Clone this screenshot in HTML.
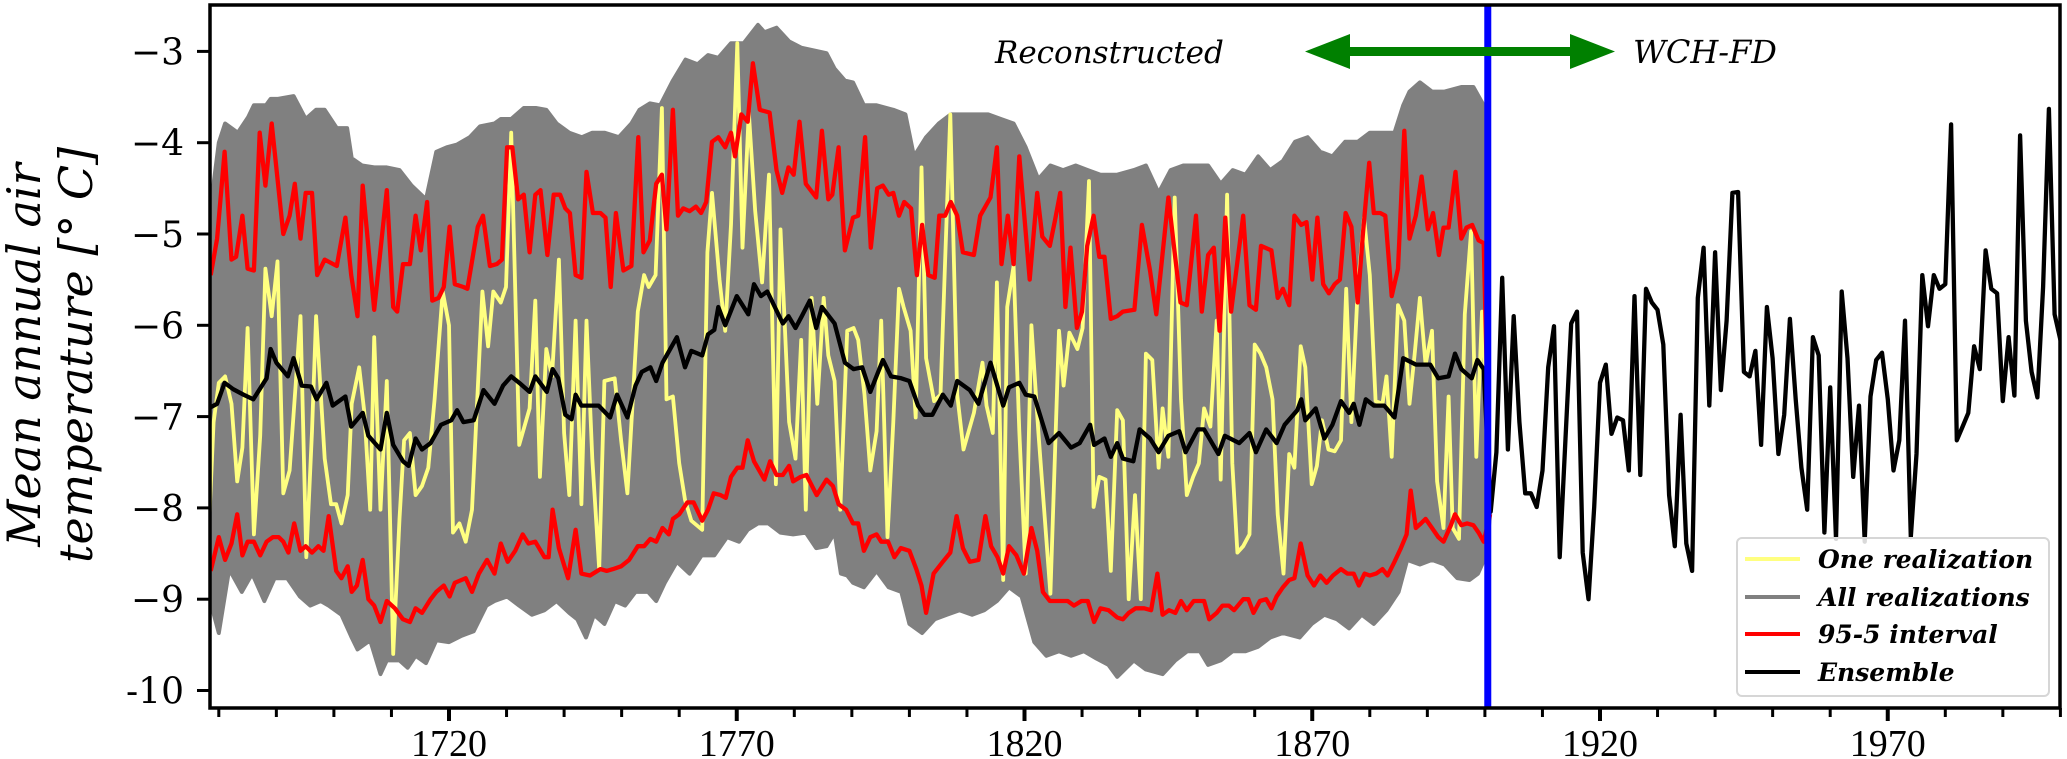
<!DOCTYPE html>
<html><head><meta charset="utf-8"><style>
html,body{margin:0;padding:0;background:#fff;}
svg{display:block;}
</style></head><body>
<svg id="chart" width="2067" height="759" viewBox="0 0 2067 759" xmlns="http://www.w3.org/2000/svg">
<defs><clipPath id="plotclip"><rect x="210" y="5" width="1850" height="703"/></clipPath></defs>
<g id="plot" clip-path="url(#plotclip)"></g>
<g id="axes"></g>
<text transform="translate(0,355) rotate(-90)" font-family="'DejaVu Serif', serif" font-style="italic" font-size="46" text-anchor="middle">
<tspan x="0" y="40">Mean annual air</tspan><tspan x="0" y="92">temperature [° C]</tspan></text>
<text x="995" y="63" font-family="'DejaVu Serif', serif" font-style="italic" font-size="31">Reconstructed</text>
<text x="1633" y="63" font-family="'DejaVu Serif', serif" font-style="italic" font-size="32">WCH-FD</text>
<g fill="#008000">
<rect x="1345" y="47" width="230" height="9"/>
<polygon points="1305,51.5 1350,34 1350,69"/>
<polygon points="1615,51.5 1570,34 1570,69"/>
</g>
<g>
<rect x="1737" y="538" width="312" height="158" rx="5" fill="#fff" fill-opacity="0.85" stroke="#d6d6d6" stroke-width="2"/>
<line x1="1745" y1="559" x2="1800" y2="559" stroke="#ffff80" stroke-width="4"/>
<text x="1818" y="568" font-family="'DejaVu Serif', serif" font-style="italic" font-weight="bold" font-size="25">One realization</text>
<line x1="1745" y1="597" x2="1800" y2="597" stroke="#808080" stroke-width="4"/>
<text x="1818" y="606" font-family="'DejaVu Serif', serif" font-style="italic" font-weight="bold" font-size="25">All realizations</text>
<line x1="1745" y1="634" x2="1800" y2="634" stroke="#ff0000" stroke-width="4"/>
<text x="1818" y="643" font-family="'DejaVu Serif', serif" font-style="italic" font-weight="bold" font-size="25">95-5 interval</text>
<line x1="1745" y1="672" x2="1800" y2="672" stroke="#000" stroke-width="4"/>
<text x="1818" y="681" font-family="'DejaVu Serif', serif" font-style="italic" font-weight="bold" font-size="25">Ensemble</text>
</g>
</svg>
<script>
const xTickYears=[1720,1770,1820,1870,1920,1970];
const yTickVals=[-3,-4,-5,-6,-7,-8,-9,-10];
const yTickLabels=["\u22123","\u22124","\u22125","\u22126","\u22127","\u22128","\u22129","-10"];
const splitYear=1900.5;
const ensRecon=[[1678.2,-6.91],[1679.7,-6.86],[1681,-6.63],[1682.5,-6.70],[1684.3,-6.76],[1686,-6.81],[1688.3,-6.58],[1689,-6.26],[1690,-6.41],[1692,-6.56],[1693,-6.36],[1694.4,-6.66],[1696,-6.67],[1697,-6.81],[1698.7,-6.63],[1699.8,-6.88],[1702,-6.78],[1703,-7.11],[1705,-6.96],[1706,-7.21],[1708.1,-7.36],[1709.2,-6.96],[1710.3,-7.31],[1712,-7.49],[1713,-7.54],[1714.2,-7.24],[1715.3,-7.36],[1716.8,-7.29],[1718.6,-7.09],[1720.4,-7.04],[1721.4,-6.93],[1722.5,-7.06],[1724.3,-7.04],[1726,-6.71],[1727.9,-6.86],[1729.4,-6.66],[1730.8,-6.56],[1732.2,-6.63],[1734,-6.73],[1735,-6.56],[1737,-6.73],[1738,-6.48],[1739,-6.58],[1740.2,-6.98],[1741.3,-7.03],[1742,-6.76],[1743,-6.88],[1746,-6.88],[1748,-7.01],[1749.2,-6.76],[1751,-7.01],[1752.4,-6.66],[1753.5,-6.51],[1755,-6.46],[1756,-6.61],[1757.1,-6.41],[1759.6,-6.13],[1761,-6.46],[1762.1,-6.28],[1764,-6.33],[1765,-6.1],[1766.1,-6.05],[1766.8,-5.80],[1768,-6.0],[1770,-5.68],[1772,-5.88],[1773,-5.55],[1774.2,-5.68],[1775.3,-5.63],[1778,-5.98],[1779,-5.90],[1780.2,-6.03],[1781.3,-5.90],[1782.7,-5.73],[1783.8,-6.03],[1784.8,-5.80],[1787,-5.98],[1788.8,-6.41],[1790.3,-6.48],[1791.8,-6.46],[1793.2,-6.73],[1795.4,-6.38],[1796.8,-6.56],[1798.6,-6.58],[1800,-6.61],[1801.5,-6.88],[1802.6,-6.98],[1804,-6.98],[1805.8,-6.76],[1807.2,-6.88],[1808.3,-6.61],[1810.5,-6.71],[1812,-6.86],[1814.1,-6.41],[1816.3,-6.88],[1817.3,-6.68],[1819.1,-6.63],[1820.2,-6.76],[1821.7,-6.78],[1824.2,-7.29],[1826,-7.18],[1828.1,-7.34],[1829.6,-7.29],[1831.4,-7.09],[1832.1,-7.31],[1833.9,-7.24],[1835,-7.44],[1836.1,-7.29],[1837.1,-7.46],[1838.9,-7.49],[1840,-7.14],[1841.8,-7.24],[1843.3,-7.39],[1845,-7.21],[1846.9,-7.16],[1848,-7.39],[1850.1,-7.14],[1851.2,-7.14],[1853.7,-7.41],[1854.8,-7.21],[1857.3,-7.29],[1859.1,-7.18],[1860.2,-7.39],[1862,-7.14],[1863.8,-7.29],[1865.2,-7.09],[1867.4,-6.93],[1868.1,-6.81],[1868.8,-7.04],[1870.6,-6.91],[1872.1,-7.24],[1873.5,-7.09],[1875,-6.83],[1876.4,-6.96],[1877.2,-6.86],[1878.2,-7.09],[1879.3,-6.81],[1880.7,-6.88],[1882.5,-6.88],[1884.3,-7.01],[1885.8,-6.36],[1888,-6.43],[1890.5,-6.43],[1891.9,-6.58],[1893.7,-6.56],[1894.8,-6.31],[1895.9,-6.48],[1897.7,-6.58],[1898.7,-6.38],[1899.8,-6.48]];
const obsStartYear=1901;
const obsVals=[-8.04,-7.39,-5.48,-7.36,-5.90,-7.06,-7.84,-7.84,-7.99,-7.59,-6.46,-6.01,-8.54,-7.24,-5.98,-5.85,-8.49,-9.0,-7.99,-6.63,-6.43,-7.19,-7.01,-7.04,-7.59,-5.68,-7.64,-5.60,-5.75,-5.83,-6.21,-7.86,-8.42,-6.98,-8.39,-8.69,-5.70,-5.15,-6.88,-5.20,-6.71,-5.95,-4.55,-4.54,-6.51,-6.56,-6.28,-7.31,-5.80,-6.36,-7.41,-6.98,-5.93,-6.81,-7.56,-8.02,-6.13,-6.33,-8.27,-6.68,-8.34,-5.63,-6.36,-7.66,-6.88,-8.37,-6.78,-6.38,-6.30,-6.81,-7.59,-7.26,-5.95,-8.32,-7.41,-5.45,-6.01,-5.45,-5.60,-5.55,-3.80,-7.26,-7.11,-6.96,-6.23,-6.48,-5.18,-5.60,-5.65,-6.83,-6.13,-6.77,-3.92,-5.95,-6.51,-6.79,-5.58,-3.63,-5.88,-6.16,-5.0];
const redUpper=[[1678.6,-5.45],[1679.7,-5.05],[1681,-4.10],[1682.2,-5.28],[1683,-5.25],[1684.1,-4.80],[1685,-5.38],[1686.1,-5.40],[1687.1,-3.89],[1688.1,-4.47],[1689.2,-3.79],[1691.2,-5.0],[1692.3,-4.80],[1693.2,-4.45],[1694.2,-5.05],[1695.1,-4.55],[1696.2,-4.55],[1697.1,-5.45],[1698.4,-5.28],[1700.5,-5.35],[1702,-4.82],[1703,-5.45],[1704.1,-5.90],[1705,-4.47],[1707,-5.83],[1709.2,-4.52],[1710.3,-5.80],[1711,-5.85],[1712,-5.33],[1713.2,-5.33],[1714.2,-4.80],[1715.1,-5.18],[1716.2,-4.65],[1717.1,-5.73],[1718.2,-5.70],[1719.1,-5.58],[1720.1,-4.92],[1721,-5.55],[1722.5,-5.58],[1723.2,-5.60],[1725,-4.92],[1725.9,-4.80],[1727.1,-5.35],[1728.3,-5.33],[1729.2,-5.28],[1730.1,-4.05],[1731,-4.05],[1732,-4.62],[1733,-4.57],[1734,-5.20],[1735,-4.57],[1735.9,-4.52],[1737.1,-5.23],[1738.2,-4.57],[1739.3,-4.57],[1740.2,-4.72],[1741,-4.77],[1742,-5.45],[1743,-5.48],[1743.9,-4.32],[1745,-4.77],[1746.3,-4.77],[1747.2,-4.82],[1748.1,-5.58],[1749,-4.77],[1750.3,-5.40],[1751.7,-5.35],[1752.9,-3.94],[1753.8,-5.20],[1754.9,-5.07],[1756,-4.45],[1757,-4.35],[1757.8,-4.95],[1758.9,-3.64],[1759.8,-4.80],[1760.7,-4.72],[1761.8,-4.75],[1762.9,-4.70],[1763.8,-4.77],[1764.7,-4.65],[1765.7,-3.99],[1766.8,-3.94],[1768,-4.05],[1769,-3.89],[1769.7,-4.15],[1770.8,-3.69],[1771.9,-3.77],[1772.8,-3.13],[1774,-3.64],[1775.7,-3.67],[1776.9,-4.30],[1777.9,-4.55],[1779,-4.27],[1779.9,-4.35],[1780.9,-3.77],[1782,-4.45],[1783.8,-4.60],[1784.8,-3.87],[1785.9,-4.62],[1786.6,-4.57],[1787.7,-4.05],[1788.8,-5.18],[1790.2,-4.82],[1791.1,-4.80],[1792.3,-3.94],[1793.3,-5.15],[1794.4,-4.50],[1795.4,-4.47],[1796.4,-4.57],[1797.2,-4.55],[1798.2,-4.80],[1799.1,-4.65],[1800.3,-4.72],[1801.3,-5.45],[1802.2,-4.90],[1803.3,-5.45],[1804.4,-5.48],[1805.2,-4.80],[1806.2,-4.80],[1807.2,-4.65],[1808.3,-4.80],[1809.3,-5.20],[1811.2,-5.23],[1812.3,-4.80],[1814.1,-4.60],[1815.2,-4.05],[1816,-5.33],[1817.1,-4.80],[1818.1,-5.33],[1819.1,-4.15],[1820.9,-5.50],[1822.2,-4.55],[1823.1,-5.03],[1824.4,-5.13],[1825.3,-4.85],[1826.2,-4.55],[1827.1,-5.80],[1828,-5.15],[1829.1,-6.03],[1830,-5.85],[1830.9,-5.13],[1832,-4.80],[1833,-5.25],[1833.9,-5.25],[1835,-5.93],[1836.1,-5.90],[1837.1,-5.85],[1839.1,-5.83],[1840.4,-4.90],[1841.8,-5.40],[1842.9,-5.88],[1845,-4.60],[1846,-5.15],[1847.1,-5.75],[1848.2,-5.78],[1849.8,-4.80],[1850.8,-5.85],[1851.9,-5.23],[1852.9,-5.15],[1853.9,-6.06],[1854.9,-4.82],[1855.9,-5.85],[1858,-4.80],[1859.1,-5.78],[1860.2,-5.83],[1861.1,-5.13],[1862.9,-5.18],[1864,-5.70],[1864.9,-5.60],[1866,-5.78],[1866.9,-4.80],[1868.1,-4.90],[1869,-4.87],[1870,-5.50],[1870.9,-4.82],[1871.9,-5.55],[1872.9,-5.65],[1873.9,-5.55],[1874.8,-5.50],[1875.8,-4.77],[1876.8,-4.92],[1877.9,-5.75],[1878.8,-5.0],[1879.9,-4.22],[1880.7,-4.77],[1881.8,-4.77],[1882.7,-4.80],[1883.8,-5.68],[1884.9,-5.38],[1886,-3.87],[1886.9,-5.05],[1888,-4.80],[1889,-4.37],[1890.1,-4.95],[1891,-4.77],[1892,-5.23],[1892.8,-4.93],[1893.7,-4.93],[1894.9,-4.32],[1895.9,-5.05],[1896.8,-4.93],[1897.8,-4.90],[1898.9,-5.07],[1899.8,-5.10],[1900.9,-8.04]];
const redLower=[[1678.6,-8.69],[1680,-8.32],[1681.1,-8.57],[1682.2,-8.39],[1683.2,-8.07],[1684.1,-8.52],[1685,-8.37],[1686.1,-8.37],[1687.2,-8.52],[1688.3,-8.37],[1689.4,-8.32],[1690.4,-8.32],[1691.2,-8.37],[1692.1,-8.49],[1693.1,-8.17],[1694.2,-8.47],[1695.1,-8.42],[1696.2,-8.49],[1697.3,-8.42],[1698.2,-8.47],[1699.1,-8.09],[1700.4,-8.69],[1701.3,-8.77],[1702.4,-8.64],[1703.1,-8.92],[1704,-8.85],[1705,-8.57],[1706,-9.0],[1707,-9.07],[1708.1,-9.25],[1709.2,-9.02],[1710.6,-9.10],[1712,-9.22],[1713.2,-9.25],[1714.2,-9.10],[1715.3,-9.15],[1716.8,-9.0],[1717.8,-8.92],[1719.1,-8.85],[1720.1,-8.97],[1721,-8.82],[1722.9,-8.77],[1724,-8.92],[1725.2,-8.72],[1726.6,-8.57],[1727.9,-8.72],[1729,-8.39],[1730.2,-8.59],[1731.5,-8.47],[1732.8,-8.29],[1733.8,-8.39],[1735,-8.37],[1736.6,-8.54],[1737.3,-8.54],[1738,-8.02],[1739.1,-8.44],[1740.7,-8.77],[1742,-8.24],[1743,-8.72],[1744.5,-8.74],[1746.3,-8.67],[1747.4,-8.69],[1748.5,-8.67],[1749.9,-8.64],[1751.3,-8.57],[1752.8,-8.42],[1753.9,-8.42],[1755,-8.34],[1756,-8.37],[1757.1,-8.22],[1758.2,-8.29],[1758.9,-8.12],[1760,-8.07],[1761.4,-7.94],[1762.5,-7.94],[1764,-8.14],[1765,-8.02],[1766,-7.84],[1767.2,-7.86],[1768.1,-7.89],[1769,-7.66],[1770.1,-7.56],[1771,-7.56],[1771.9,-7.26],[1773,-7.49],[1774.8,-7.69],[1775.8,-7.49],[1776.9,-7.64],[1778,-7.64],[1779.1,-7.54],[1779.8,-7.71],[1781.1,-7.66],[1782.1,-7.64],[1783.9,-7.86],[1785.6,-7.69],[1786.7,-7.76],[1787.7,-7.96],[1789,-8.02],[1790.2,-8.17],[1791.1,-8.17],[1792.1,-8.47],[1793.2,-8.32],[1794.3,-8.29],[1795.1,-8.37],[1796.3,-8.37],[1797.4,-8.54],[1798.5,-8.44],[1800,-8.47],[1801.2,-8.67],[1802.1,-8.85],[1802.9,-9.15],[1804.2,-8.72],[1805.8,-8.59],[1807.1,-8.49],[1808.2,-8.09],[1809.3,-8.44],[1810.5,-8.59],[1812,-8.57],[1813.2,-8.09],[1814.2,-8.42],[1815.3,-8.54],[1816.3,-8.72],[1817.3,-8.42],[1818.6,-8.52],[1819.9,-8.72],[1821.2,-8.22],[1822.2,-8.47],[1823.2,-8.92],[1824.4,-9.02],[1826,-9.02],[1827.5,-9.02],[1828.6,-9.07],[1829.9,-9.02],[1831,-9.02],[1832.1,-9.25],[1833.2,-9.10],[1834.6,-9.12],[1836.1,-9.20],[1837.1,-9.22],[1838.1,-9.15],[1839.3,-9.10],[1840.8,-9.10],[1842,-9.12],[1843.1,-8.72],[1844,-9.17],[1845.1,-9.12],[1846.2,-9.15],[1847.2,-9.02],[1848.2,-9.12],[1849.4,-9.02],[1851.2,-9.02],[1852.1,-9.22],[1853.4,-9.15],[1854.4,-9.07],[1855.5,-9.07],[1856.4,-9.12],[1858,-9.0],[1858.9,-9.0],[1859.8,-9.15],[1860.9,-9.02],[1862,-9.0],[1862.9,-9.10],[1863.8,-8.97],[1864.9,-8.87],[1866,-8.79],[1866.9,-8.77],[1868,-8.39],[1869.2,-8.74],[1870.3,-8.85],[1871.4,-8.74],[1872.5,-8.82],[1873.6,-8.74],[1875,-8.67],[1876.1,-8.72],[1877.2,-8.72],[1878.1,-8.85],[1879.1,-8.72],[1880,-8.74],[1881.1,-8.72],[1882.2,-8.67],[1883.1,-8.74],[1884.3,-8.59],[1885.4,-8.44],[1886.4,-8.29],[1887.1,-7.81],[1888,-8.22],[1888.9,-8.17],[1889.7,-8.12],[1890.8,-8.22],[1891.9,-8.32],[1892.8,-8.37],[1894.1,-8.19],[1894.8,-8.07],[1895.9,-8.19],[1896.9,-8.17],[1898,-8.19],[1898.9,-8.27],[1899.8,-8.37],[1900.9,-8.07]];
const oneReal=[[1678.3,-8.2],[1679.1,-7.06],[1680,-6.63],[1681.1,-6.56],[1682.2,-6.86],[1683.2,-7.71],[1684.1,-7.34],[1685,-6.03],[1686.1,-8.29],[1687.2,-7.21],[1688.1,-5.38],[1689.2,-5.90],[1690.2,-5.30],[1691.2,-7.84],[1692.3,-7.59],[1694.2,-5.90],[1695.2,-8.54],[1696.2,-7.16],[1696.9,-5.90],[1698.4,-7.46],[1699.5,-7.96],[1700.4,-7.96],[1701.3,-8.17],[1702.4,-7.86],[1703.1,-6.86],[1704.4,-6.46],[1705.3,-6.96],[1706.3,-8.02],[1707,-6.13],[1708.1,-8.02],[1709.2,-6.61],[1710.3,-9.60],[1711.4,-8.12],[1712.2,-7.26],[1713.2,-7.18],[1714.2,-7.86],[1715.3,-7.76],[1716.4,-7.56],[1717.5,-6.81],[1718.9,-5.63],[1720,-6.0],[1720.7,-8.27],[1721.8,-8.17],[1722.9,-8.37],[1724,-8.02],[1725.8,-5.63],[1726.8,-6.23],[1727.7,-5.63],[1729,-5.75],[1729.9,-5.58],[1730.8,-3.89],[1732.2,-7.31],[1734,-6.91],[1735,-5.73],[1735.8,-7.66],[1736.9,-6.26],[1737.9,-6.56],[1739.1,-5.28],[1740,-7.18],[1740.9,-7.86],[1742,-5.95],[1743,-7.96],[1743.9,-5.95],[1744.9,-7.46],[1746.1,-8.67],[1747,-6.61],[1748.8,-6.58],[1749.9,-7.26],[1751,-7.84],[1752.8,-5.85],[1753.9,-5.45],[1754.7,-5.58],[1755.9,-5.45],[1757,-3.62],[1757.8,-6.81],[1758.9,-6.78],[1760,-7.51],[1761,-7.91],[1762.1,-8.14],[1764,-8.24],[1764.9,-5.20],[1765.7,-4.55],[1767,-5.50],[1768,-6.06],[1769,-4.90],[1770.1,-2.91],[1771,-5.15],[1772.1,-3.67],[1773.2,-4.75],[1774.4,-5.53],[1775.6,-4.35],[1776.8,-7.74],[1777.6,-4.95],[1779.1,-7.06],[1780.2,-7.46],[1781.2,-6.16],[1782,-8.02],[1783,-5.70],[1784,-6.86],[1785.1,-5.70],[1785.9,-6.33],[1787,-6.61],[1788,-8.02],[1789.2,-6.06],[1790.3,-6.03],[1791.1,-6.16],[1792.2,-6.76],[1793.2,-7.59],[1794.3,-7.16],[1795.1,-5.95],[1796.2,-8.32],[1797.2,-7.06],[1798.2,-5.60],[1799,-5.80],[1800.2,-6.06],[1801.1,-7.01],[1802.1,-4.27],[1802.9,-6.36],[1804.3,-6.83],[1805.4,-6.76],[1806.2,-5.30],[1807.1,-3.69],[1808.3,-6.76],[1809.4,-7.36],[1811.2,-6.96],[1812.7,-6.41],[1813.4,-6.88],[1814.5,-7.18],[1815.2,-5.53],[1816.3,-8.79],[1817,-5.80],[1818.1,-5.35],[1819.1,-7.16],[1820.2,-8.72],[1821.2,-6.0],[1822.4,-7.16],[1824.5,-8.94],[1826,-6.06],[1826.8,-6.66],[1827.8,-6.08],[1829.2,-6.26],[1830.1,-6.03],[1831.2,-4.42],[1832,-7.99],[1833,-7.66],[1834.1,-7.69],[1835,-8.69],[1836.1,-6.93],[1837.1,-7.04],[1838.1,-9.0],[1839.2,-7.86],[1840.2,-9.0],[1841.1,-6.31],[1842.2,-6.38],[1843.3,-7.56],[1844,-6.91],[1845,-7.44],[1846.1,-4.60],[1847.2,-6.81],[1848.2,-7.86],[1849.3,-7.66],[1850.3,-7.51],[1851.2,-6.91],[1852.3,-7.11],[1853.4,-5.95],[1854.1,-7.69],[1855.2,-4.57],[1856.1,-7.51],[1857,-8.49],[1858,-8.42],[1859.1,-8.29],[1860,-6.21],[1861,-6.31],[1862,-6.46],[1863.1,-6.81],[1864,-8.07],[1865,-8.72],[1866,-7.41],[1866.9,-7.56],[1868,-6.23],[1868.8,-6.46],[1869.9,-7.74],[1870.8,-7.54],[1871.7,-7.04],[1872.8,-7.36],[1873.9,-7.38],[1875,-7.26],[1875.9,-5.60],[1876.8,-7.06],[1877.9,-5.60],[1879,-4.82],[1880,-5.45],[1881,-6.83],[1882.2,-6.86],[1882.9,-6.56],[1883.8,-7.44],[1884.9,-5.78],[1886,-5.95],[1886.9,-6.86],[1887.8,-6.31],[1888.7,-5.70],[1889.7,-6.43],[1890.8,-6.06],[1891.7,-7.71],[1892.8,-8.22],[1893.7,-6.78],[1894.4,-8.22],[1895.5,-8.34],[1896.5,-5.88],[1897.6,-4.97],[1898.5,-7.44],[1899.5,-5.85],[1900.2,-6.86],[1900.9,-8.02]];
const grayTop=[[1678.3,-4.85],[1680,-4.0],[1681.1,-3.79],[1683.3,-3.89],[1685.1,-3.72],[1686.1,-3.59],[1688.2,-3.59],[1689,-3.52],[1690.3,-3.52],[1693,-3.49],[1695.1,-3.74],[1696.9,-3.64],[1698.4,-3.64],[1700.5,-3.84],[1702.3,-3.84],[1703.1,-4.17],[1704.9,-4.25],[1707,-4.27],[1709.2,-4.27],[1711.4,-4.30],[1713.5,-4.47],[1716,-4.62],[1717.8,-4.10],[1719.6,-4.05],[1721.4,-4.02],[1723.6,-3.94],[1725.4,-3.82],[1727.9,-3.79],[1729,-3.74],[1730.8,-3.74],[1733,-3.62],[1735.1,-3.62],[1736.9,-3.64],[1738.7,-3.79],[1740.9,-3.89],[1743.1,-3.94],[1744.9,-3.89],[1747,-3.89],[1749.5,-3.94],[1751.7,-3.79],[1753.1,-3.64],[1754.9,-3.57],[1756.7,-3.59],[1758.9,-3.32],[1761.1,-3.09],[1763.2,-3.14],[1765,-3.04],[1766.8,-3.07],[1769,-2.91],[1771.2,-2.91],[1773.7,-2.71],[1774.8,-2.79],[1776.9,-2.74],[1779.1,-2.89],[1781.2,-2.96],[1783.4,-2.99],[1785.6,-3.02],[1787,-3.19],[1788.8,-3.32],[1790.2,-3.34],[1792.1,-3.59],[1794.3,-3.59],[1797.2,-3.64],[1799.3,-3.69],[1800.8,-4.15],[1802.9,-3.94],[1805.1,-3.79],[1807.2,-3.69],[1809.4,-3.69],[1811.6,-3.69],[1813.7,-3.69],[1815.9,-3.74],[1818.1,-3.79],[1820.2,-4.05],[1822.4,-4.40],[1824.5,-4.25],[1826.7,-4.30],[1828.9,-4.25],[1831,-4.30],[1833.2,-4.35],[1836.1,-4.35],[1839,-4.30],[1841.1,-4.25],[1843.3,-4.55],[1845.4,-4.30],[1847.6,-4.25],[1849.8,-4.25],[1851.9,-4.25],[1854.1,-4.45],[1856.2,-4.30],[1858.4,-4.35],[1860.6,-4.15],[1862.7,-4.30],[1864.9,-4.20],[1867,-3.99],[1869.2,-3.94],[1871.4,-4.10],[1873.5,-4.15],[1875.7,-3.99],[1877.9,-3.99],[1880,-3.89],[1882.2,-3.89],[1884.3,-3.89],[1885.8,-3.59],[1886.9,-3.44],[1888.7,-3.34],[1890.8,-3.44],[1893,-3.44],[1895.9,-3.39],[1898,-3.39],[1899.8,-3.59],[1900.9,-8.04]];
const grayBottom=[[1678.3,-8.97],[1680,-9.37],[1681.8,-8.67],[1684,-8.92],[1685.8,-8.72],[1687.9,-9.02],[1689.7,-8.77],[1691.9,-8.77],[1694.1,-8.97],[1695.9,-9.07],[1697.7,-9.02],[1699.1,-9.07],[1701.3,-9.17],[1703.1,-9.42],[1704.1,-9.55],[1706.3,-9.45],[1708.1,-9.82],[1709.2,-9.67],[1711.4,-9.67],[1712.8,-9.75],[1714.2,-9.62],[1716,-9.70],[1717.8,-9.45],[1720,-9.47],[1722.2,-9.40],[1724.3,-9.35],[1726.5,-9.07],[1727.9,-9.02],[1730.1,-8.97],[1732.2,-9.07],[1734.4,-9.17],[1736.6,-9.12],[1738.7,-9.02],[1740.9,-9.15],[1742.3,-9.22],[1743.8,-9.42],[1745.2,-9.17],[1747,-9.27],[1748.8,-9.02],[1750.6,-9.07],[1752.4,-8.92],[1754.6,-8.92],[1756,-9.02],[1757.5,-8.82],[1759.6,-8.59],[1761.8,-8.72],[1763.9,-8.52],[1766.1,-8.52],[1768.3,-8.32],[1770.4,-8.37],[1771.9,-8.24],[1773.7,-8.17],[1775.5,-8.17],[1777.6,-8.27],[1779.8,-8.29],[1782,-8.27],[1783.8,-8.44],[1785.6,-8.42],[1787,-8.27],[1788.1,-8.72],[1789.2,-8.74],[1790.2,-8.82],[1792.1,-8.87],[1794.3,-8.69],[1796.4,-8.87],[1798.6,-8.92],[1800,-9.27],[1802.2,-9.37],[1804.4,-9.22],[1806.5,-9.17],[1808.7,-9.12],[1810.9,-9.17],[1813,-9.12],[1815.2,-9.02],[1817.3,-8.87],[1819.5,-8.97],[1821.7,-9.47],[1823.8,-9.62],[1826,-9.57],[1828.1,-9.62],[1830.3,-9.57],[1832.5,-9.65],[1834.6,-9.72],[1836.1,-9.85],[1839,-9.67],[1841.1,-9.77],[1844,-9.82],[1846.2,-9.67],[1848.3,-9.57],[1850.5,-9.57],[1851.9,-9.72],[1854.1,-9.67],[1856.2,-9.57],[1858.4,-9.57],[1860.6,-9.52],[1862.7,-9.42],[1864.9,-9.37],[1867.8,-9.42],[1869.9,-9.27],[1872.1,-9.17],[1874.3,-9.22],[1876.4,-9.32],[1878.6,-9.17],[1880.7,-9.27],[1882.9,-9.12],[1885,-8.92],[1886.5,-8.57],[1888.7,-8.62],[1890.8,-8.57],[1893,-8.62],[1895.2,-8.77],[1897.3,-8.79],[1898.8,-8.72],[1900.2,-8.52],[1900.9,-8.07]];

const NS="http://www.w3.org/2000/svg";
function xScale(yr){return 449+(yr-1720)*5.755;}
function yScale(v){return 51.4+(-3-v)*91.3;}
function mk(tag,attrs,parent){const e=document.createElementNS(NS,tag);for(const k in attrs)e.setAttribute(k,attrs[k]);parent.appendChild(e);return e;}
const plot=document.getElementById('plot');
const axes=document.getElementById('axes');
function pts(arr){return arr.map(p=>xScale(p[0]).toFixed(1)+','+yScale(p[1]).toFixed(1)).join(' ');}

const bandPts=pts(grayTop)+' '+pts(grayBottom.slice().reverse());
const band=mk('polygon',{points:bandPts,fill:'#808080',stroke:'#808080','stroke-width':4,'stroke-linejoin':'round'},plot);



const yl=mk('polyline',{points:pts(oneReal),fill:'none',stroke:'#ffff80','stroke-width':3.8,'stroke-linejoin':'round'},plot);



const ru=mk('polyline',{points:pts(redUpper),fill:'none',stroke:'#ff0000','stroke-width':4.3,'stroke-linejoin':'round'},plot);


const rl=mk('polyline',{points:pts(redLower),fill:'none',stroke:'#ff0000','stroke-width':4.3,'stroke-linejoin':'round'},plot);



const obsPairs=obsVals.map((v,i)=>[obsStartYear+i,v]);
const ens=mk('polyline',{points:pts(ensRecon.concat(obsPairs)),fill:'none',stroke:'#000','stroke-width':4.3,'stroke-linejoin':'round'},plot);



const bl=mk('line',{x1:xScale(splitYear),x2:xScale(splitYear),y1:5,y2:708,stroke:'#0000ff','stroke-width':7},plot);



const fr=mk('rect',{x:210,y:5,width:1850,height:703,fill:'none',stroke:'#000','stroke-width':3.5},axes);



for(let yr=1680;yr<=2000;yr+=10){
  const x=xScale(yr);
  if(x<208||x>2062)continue;
  const major=xTickYears.indexOf(yr)>=0;
  const t=mk('line',{x1:x,x2:x,y1:708,y2:major?721:717,stroke:'#000','stroke-width':major?4:3},axes);
  
  
}
xTickYears.forEach(yr=>{
  const t=mk('text',{x:xScale(yr),y:756,'text-anchor':'middle','font-family':"'Liberation Serif', serif",'font-size':38},axes);
  t.textContent=String(yr);
  
  
});
yTickVals.forEach((v,i)=>{
  const y=yScale(v);
  const t=mk('line',{x1:197,x2:210,y1:y,y2:y,stroke:'#000','stroke-width':3},axes);
  
  
  const l=mk('text',{x:184,y:y+13,'text-anchor':'end','font-family':"'DejaVu Serif', serif",'font-size':36},axes);
  l.textContent=yTickLabels[i];
  
  
});
</script>
</body></html>
